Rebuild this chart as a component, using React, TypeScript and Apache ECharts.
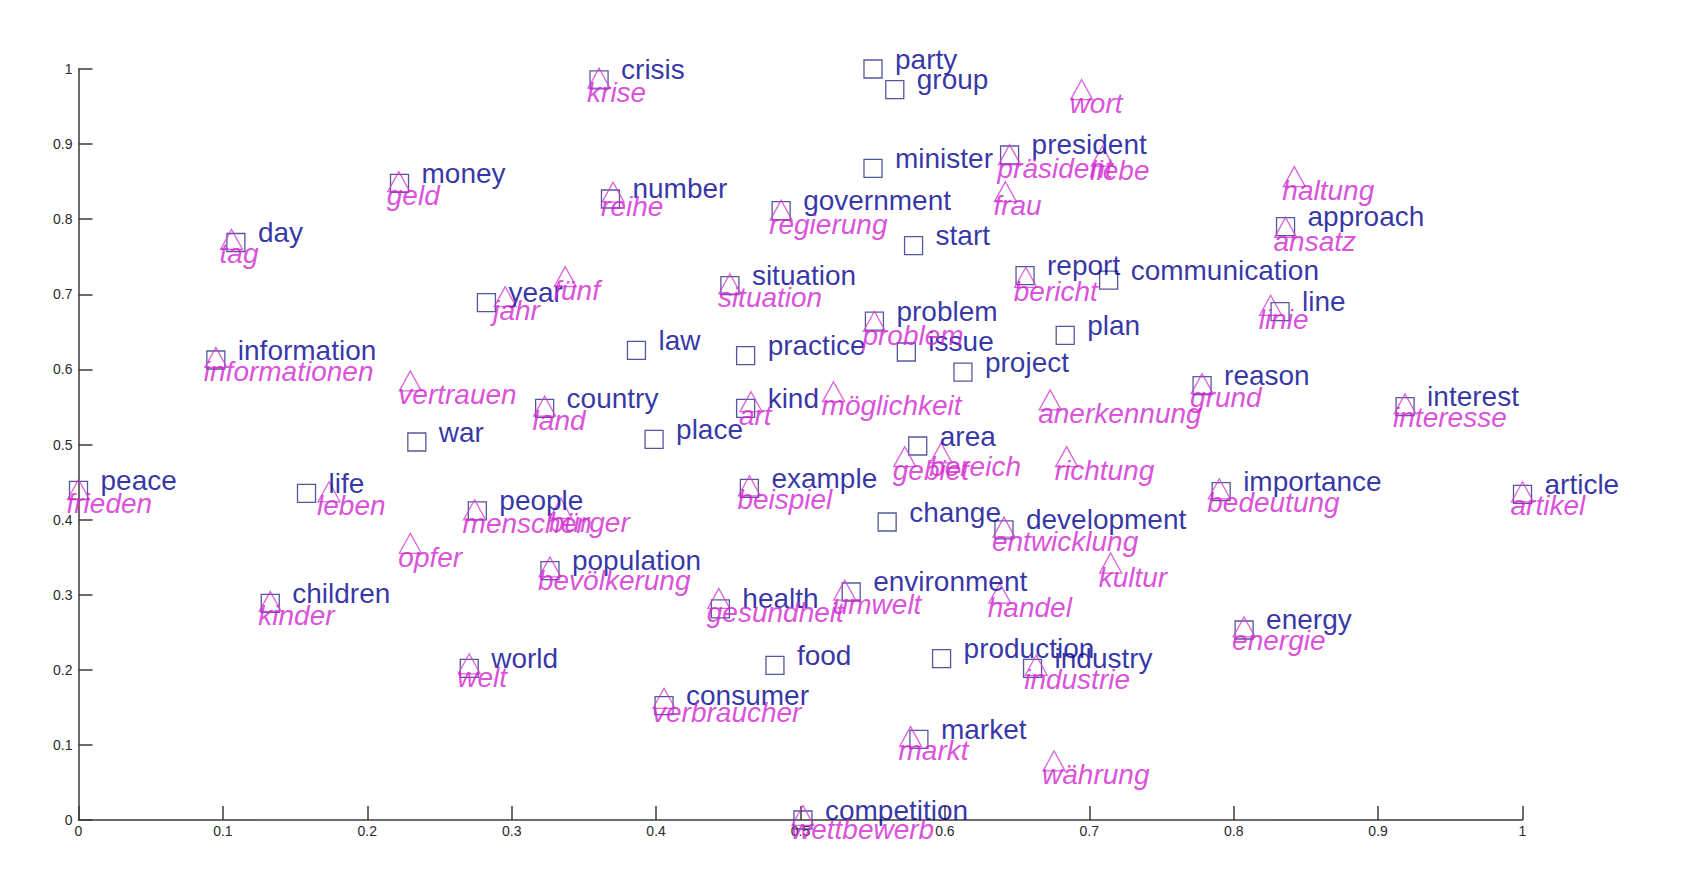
import React, { useEffect, useRef } from "react";
import * as echarts from "echarts";

// English words (square markers)
const englishWords = [
  "crisis", "party", "group", "minister", "president", "money", "number", "government", "start", "approach",
  "day", "report", "communication", "situation", "year", "line", "problem", "plan", "law", "issue",
  "practice", "information", "project", "reason", "interest", "country", "kind", "place", "war", "area",
  "example", "peace", "importance", "life", "article", "people", "change", "development", "population", "environment",
  "children", "health", "energy", "production", "food", "world", "industry", "consumer", "market", "competition",
];
const englishX = [
  0.3605, 0.5502, 0.5653, 0.5502, 0.6448, 0.2223, 0.3684, 0.4866, 0.5783, 0.8359,
  0.109, 0.6555, 0.7134, 0.4511, 0.2825, 0.8321, 0.5512, 0.6833, 0.3864, 0.5733,
  0.462, 0.0951, 0.6125, 0.7781, 0.9187, 0.3228, 0.462, 0.3986, 0.2343, 0.5812,
  0.4646, 0.0, 0.7913, 0.1579, 1.0, 0.2762, 0.56, 0.6409, 0.3265, 0.5351,
  0.1328, 0.4445, 0.8072, 0.5977, 0.4823, 0.2706, 0.6607, 0.4055, 0.582, 0.5017,
];
const englishY = [
  0.9854, 1.0, 0.9725, 0.8677, 0.8855, 0.8478, 0.8269, 0.8113, 0.7647, 0.79,
  0.769, 0.7248, 0.719, 0.7115, 0.6888, 0.6769, 0.6644, 0.6454, 0.6254, 0.6232,
  0.6183, 0.6125, 0.5965, 0.5783, 0.5504, 0.5482, 0.5482, 0.5069, 0.5033, 0.498,
  0.4417, 0.439, 0.4372, 0.435, 0.4337, 0.4117, 0.3968, 0.3862, 0.332, 0.3036,
  0.2885, 0.281, 0.253, 0.2148, 0.206, 0.202, 0.202, 0.1522, 0.1074, 0.0,
];

// German words (triangle markers)
const germanWords = [
  "krise", "wort", "präsident", "liebe", "haltung", "geld", "frau", "reihe", "regierung", "ansatz",
  "tag", "fünf", "bericht", "situation", "jahr", "linie", "problem", "informationen", "vertrauen", "möglichkeit",
  "anerkennung", "grund", "art", "interesse", "land", "bereich", "gebiet", "richtung", "beispiel", "bedeutung",
  "frieden", "leben", "artikel", "bürger", "menschen", "entwicklung", "opfer", "kultur", "bevölkerung", "umwelt",
  "handel", "kinder", "gesundheit", "energie", "welt", "industrie", "verbraucher", "markt", "währung", "wettbewerb",
];
const germanX = [
  0.3605, 0.6947, 0.6448, 0.709, 0.842, 0.2218, 0.6419, 0.3702, 0.4866, 0.8359,
  0.106, 0.3371, 0.656, 0.4511, 0.2955, 0.8256, 0.5512, 0.0951, 0.2298, 0.5229,
  0.6729, 0.7781, 0.4657, 0.9187, 0.3228, 0.5974, 0.5722, 0.6843, 0.4646, 0.79,
  0.0, 0.1735, 1.0, 0.334, 0.2743, 0.6409, 0.2298, 0.7148, 0.3265, 0.5306,
  0.638, 0.1328, 0.4434, 0.8072, 0.2706, 0.6632, 0.4055, 0.5762, 0.6756, 0.5017,
];
const germanY = [
  0.9878, 0.9725, 0.886, 0.884, 0.8566, 0.85, 0.8366, 0.836, 0.812, 0.789,
  0.773, 0.7234, 0.7226, 0.714, 0.6968, 0.6853, 0.664, 0.616, 0.5846, 0.5703,
  0.5593, 0.581, 0.557, 0.554, 0.551, 0.4887, 0.4838, 0.4838, 0.445, 0.441,
  0.44, 0.437, 0.437, 0.415, 0.413, 0.39, 0.3684, 0.3422, 0.337, 0.306,
  0.302, 0.291, 0.295, 0.257, 0.208, 0.206, 0.162, 0.111, 0.0786, 0.006,
];

const axisTicks = [0, 0.1, 0.2, 0.3, 0.4, 0.5, 0.6, 0.7, 0.8, 0.9, 1];

export default function App() {
  const ref = useRef<HTMLDivElement>(null);

  useEffect(() => {
    if (!ref.current) return;
    const chart = echarts.init(ref.current, undefined, { renderer: "svg" });

    const enData = englishWords.map((w, i) => ({ name: w, value: [englishX[i], englishY[i]] }));
    const deData = germanWords.map((w, i) => ({ name: w, value: [germanX[i], germanY[i]] }));

    const axisCommon = {
      type: "value" as const,
      min: axisTicks[0],
      max: axisTicks[axisTicks.length - 1],
      interval: 0.1,
      splitLine: { show: false },
      axisLine: { show: true, lineStyle: { color: "#3a3a3a", width: 1.5 } },
      axisTick: { show: true, inside: true, length: 14, lineStyle: { color: "#3a3a3a", width: 1.5 } },
    };

    chart.setOption({
      animation: false,
      backgroundColor: "#ffffff",
      grid: { left: 78.5, top: 69, width: 1444, height: 751, containLabel: false },
      xAxis: {
        ...axisCommon,
        axisLabel: {
          fontSize: 14,
          color: "#2a2a2a",
          margin: 4,
          fontFamily: "'Liberation Sans Narrow', 'Liberation Sans', Arial, sans-serif",
        },
      },
      yAxis: {
        ...axisCommon,
        axisLabel: {
          fontSize: 14,
          color: "#2a2a2a",
          margin: 6,
          fontFamily: "'Liberation Sans Narrow', 'Liberation Sans', Arial, sans-serif",
        },
      },
      series: [
        {
          type: "scatter",
          name: "english",
          data: enData,
          symbol: "rect",
          symbolSize: 18,
          clip: false,
          itemStyle: { color: "rgba(0,0,0,0)", borderColor: "#2c2c86", borderWidth: 1.3 },
          label: {
            show: true,
            position: "inside",
            align: "left",
            verticalAlign: "middle",
            offset: [22, -10],
            formatter: (p: any) => p.name,
            fontSize: 28,
            fontFamily: "'Liberation Sans', Arial, Helvetica, sans-serif",
            color: "#000090",
          },
          emphasis: { disabled: true },
        },
        {
          type: "scatter",
          name: "german",
          data: deData,
          symbol: "triangle",
          symbolSize: [22, 20],
          clip: false,
          itemStyle: { color: "rgba(0,0,0,0)", borderColor: "#d040d0", borderWidth: 1.3 },
          label: {
            show: true,
            position: "inside",
            align: "left",
            verticalAlign: "middle",
            offset: [-12, 14],
            formatter: (p: any) => p.name,
            fontSize: 28,
            fontStyle: "italic",
            fontFamily: "'Liberation Sans', Arial, Helvetica, sans-serif",
            color: "#d024d0",
          },
          emphasis: { disabled: true },
        },
      ],
    });

    return () => {
      chart.dispose();
    };
  }, []);

  return (
    <div
      ref={ref}
      style={{ position: "fixed", left: 0, top: 0, width: 1701, height: 873, background: "#fff" }}
    />
  );
}
